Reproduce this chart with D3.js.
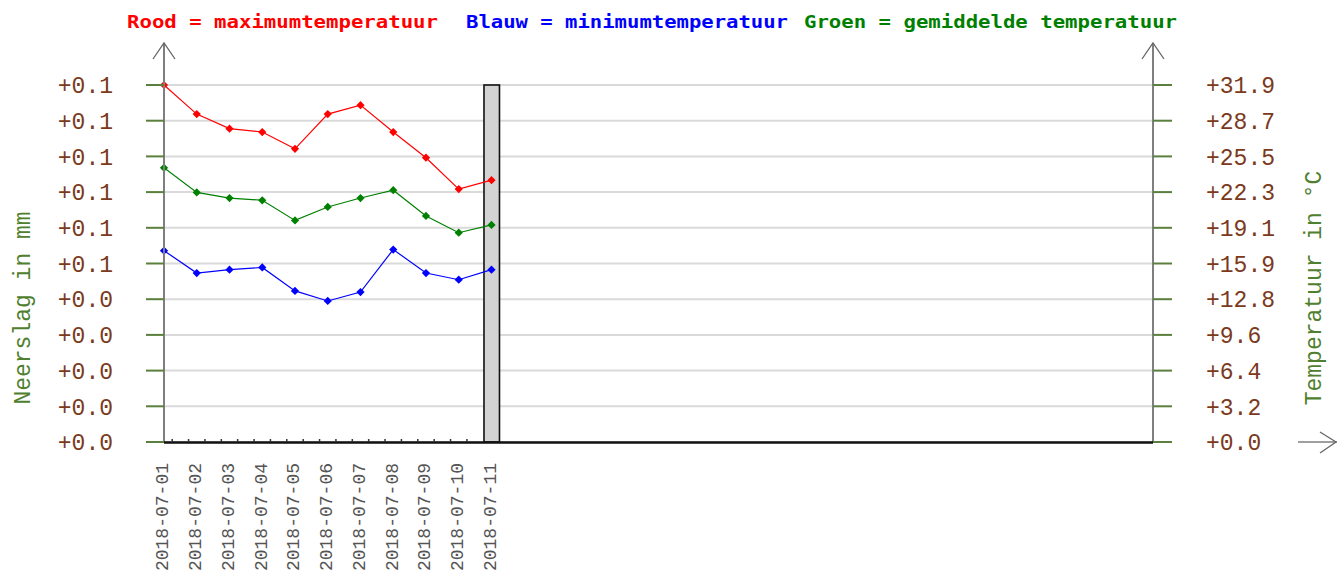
<!DOCTYPE html>
<html>
<head>
<meta charset="utf-8">
<script src="https://cdn.jsdelivr.net/npm/d3@7"></script>
<style>
  html, body { margin: 0; padding: 0; background: #fff; }
  svg { display: block; }
</style>
</head>
<body>
<svg id="chart" width="1338" height="570"></svg>
<script>
// Daily weather for July 2018
const dates = ["2018-07-01","2018-07-02","2018-07-03","2018-07-04","2018-07-05","2018-07-06",
               "2018-07-07","2018-07-08","2018-07-09","2018-07-10","2018-07-11"];
const maxTemp  = [31.9, 29.3, 28.0, 27.7, 26.2, 29.3, 30.1, 27.7, 25.4, 22.6, 23.4];
const meanTemp = [24.5, 22.3, 21.8, 21.6, 19.8, 21.0, 21.8, 22.5, 20.2, 18.7, 19.4];
const minTemp  = [17.1, 15.1, 15.4, 15.6, 13.5, 12.6, 13.4, 17.2, 15.1, 14.5, 15.4];
const precip   = [0, 0, 0, 0, 0, 0, 0, 0, 0, 0, 0.1];

const tempTickLabels   = ["+0.0","+3.2","+6.4","+9.6","+12.8","+15.9","+19.1","+22.3","+25.5","+28.7","+31.9"];
const precipTickLabels = ["+0.0","+0.0","+0.0","+0.0","+0.0","+0.1","+0.1","+0.1","+0.1","+0.1","+0.1"];
const tempMax = 31.9, precipMax = 0.1;

const titleParts = [
  {text: "Rood = maximumtemperatuur",  color: "#ff0000", x: 127, w: 311},
  {text: "Blauw = minimumtemperatuur", color: "#0000ff", x: 466, w: 322},
  {text: "Groen = gemiddelde temperatuur", color: "#008000", x: 804, w: 373}
];

const svg = d3.select("#chart");
const plotLeft = 164, plotRight = 1153, plotTop = 85, plotBottom = 442;

const x = d3.scaleLinear().domain([0, 30.2]).range([plotLeft, plotRight]);
const yT = d3.scaleLinear().domain([0, tempMax]).range([plotBottom, plotTop]);
const yP = d3.scaleLinear().domain([0, precipMax]).range([plotBottom, plotTop]);

const tickIdx = d3.range(tempTickLabels.length);
const tempTicks = tickIdx.map(i => tempMax * i / 10);

// title
svg.append("g").selectAll("text").data(titleParts).join("text")
  .attr("x", d => d.x).attr("y", 28)
  .attr("textLength", d => d.w).attr("lengthAdjust", "spacingAndGlyphs")
  .attr("fill", d => d.color)
  .style("font", "bold 17px 'DejaVu Sans Mono', monospace")
  .text(d => d.text);

// gridlines
svg.append("g").selectAll("line").data(tempTicks).join("line")
  .attr("x1", plotLeft).attr("x2", plotRight)
  .attr("y1", d => yT(d)).attr("y2", d => yT(d))
  .attr("stroke", "#dadada").attr("stroke-width", 2);

// precipitation bars
svg.append("g").selectAll("rect").data(precip.map((v, i) => ({v, i})).filter(d => d.v > 0)).join("rect")
  .attr("x", d => x(d.i) - 7.5).attr("width", 15.5)
  .attr("y", d => yP(d.v)).attr("height", d => yP(0) - yP(d.v))
  .attr("fill", "#d3d3d3").attr("stroke", "#111").attr("stroke-width", 1.6);

// temperature series
const series = [
  {values: maxTemp,  color: "#ff0000"},
  {values: meanTemp, color: "#008000"},
  {values: minTemp,  color: "#0000ff"}
];
const line = d3.line().x((d, i) => x(i)).y(d => yT(d));
const marker = d3.symbol().type(d3.symbolSquare).size(34);
series.forEach(s => {
  const g = svg.append("g");
  g.append("path").attr("d", line(s.values))
    .attr("fill", "none").attr("stroke", s.color).attr("stroke-width", 1.2);
  g.selectAll("path.m").data(s.values).join("path").attr("class", "m")
    .attr("d", marker)
    .attr("transform", (d, i) => `translate(${x(i)},${yT(d)}) rotate(45)`)
    .attr("fill", s.color);
});

// axes lines
const axisGray = "#7f7f7f";
svg.append("line").attr("x1", plotLeft).attr("x2", plotLeft).attr("y1", 43).attr("y2", plotBottom)
  .attr("stroke", axisGray).attr("stroke-width", 2);
svg.append("line").attr("x1", plotRight).attr("x2", plotRight).attr("y1", 43).attr("y2", plotBottom)
  .attr("stroke", axisGray).attr("stroke-width", 2);
[plotLeft, plotRight].forEach(ax => {
  svg.append("path").attr("d", `M${ax - 11},${59} L${ax},${43} L${ax + 11},${59}`)
    .attr("fill", "none").attr("stroke", "#666").attr("stroke-width", 1.3);
});
svg.append("line").attr("x1", plotLeft).attr("x2", plotRight).attr("y1", plotBottom + 0.5).attr("y2", plotBottom + 0.5)
  .attr("stroke", "#111").attr("stroke-width", 2.5);
// arrow at the lower right
svg.append("line").attr("x1", 1298).attr("x2", 1337).attr("y1", plotBottom).attr("y2", plotBottom)
  .attr("stroke", axisGray).attr("stroke-width", 1.6);
svg.append("path").attr("d", `M1320,432 L1336,442 L1320,453`)
  .attr("fill", "none").attr("stroke", "#666").attr("stroke-width", 1.3);

// minor ticks along the date axis
const minorTicks = d3.range(19).map(k => 0.25 + 0.5 * k);
svg.append("g").selectAll("line").data(minorTicks).join("line")
  .attr("x1", d => x(d)).attr("x2", d => x(d))
  .attr("y1", plotBottom - 3).attr("y2", plotBottom)
  .attr("stroke", "#333").attr("stroke-width", 1.5);

// left (precipitation) ticks and labels
const tickGreen = "#5b7f3c", labelBrown = "#7b3a20";
const leftAxis = svg.append("g");
leftAxis.selectAll("line").data(tickIdx).join("line")
  .attr("x1", 146).attr("x2", plotLeft)
  .attr("y1", i => yP(precipMax * i / 10)).attr("y2", i => yP(precipMax * i / 10))
  .attr("stroke", tickGreen).attr("stroke-width", 2);
leftAxis.selectAll("text").data(tickIdx).join("text")
  .attr("x", 113).attr("y", i => yP(precipMax * i / 10)).attr("dy", "0.36em")
  .attr("text-anchor", "end").attr("fill", labelBrown)
  .style("font", "23px 'Liberation Mono', monospace")
  .text(i => precipTickLabels[i]);

// right (temperature) ticks and labels
const rightAxis = svg.append("g");
rightAxis.selectAll("line").data(tempTicks).join("line")
  .attr("x1", plotRight).attr("x2", 1172)
  .attr("y1", d => yT(d)).attr("y2", d => yT(d))
  .attr("stroke", tickGreen).attr("stroke-width", 2);
rightAxis.selectAll("text").data(tickIdx).join("text")
  .attr("x", 1206).attr("y", i => yT(tempTicks[i])).attr("dy", "0.36em")
  .attr("fill", labelBrown)
  .style("font", "23px 'Liberation Mono', monospace")
  .text(i => tempTickLabels[i]);

// axis titles
svg.append("text").attr("transform", "translate(22,308) rotate(-90)")
  .attr("text-anchor", "middle").attr("dy", "0.36em").attr("fill", "#4f8030")
  .style("font", "23px 'Liberation Mono', monospace")
  .text("Neerslag in mm");
svg.append("text").attr("transform", "translate(1313,288) rotate(-90)")
  .attr("text-anchor", "middle").attr("dy", "0.36em").attr("fill", "#4f8030")
  .style("font", "23px 'Liberation Mono', monospace")
  .text("Temperatuur in °C");

// date labels
svg.append("g").selectAll("text").data(dates).join("text")
  .attr("transform", (d, i) => `translate(${x(i) - 2},463) rotate(-90)`)
  .attr("text-anchor", "end").attr("dy", "0.36em").attr("fill", "#555")
  .style("font", "18px 'Liberation Mono', monospace")
  .text(d => d);
</script>
</body>
</html>
